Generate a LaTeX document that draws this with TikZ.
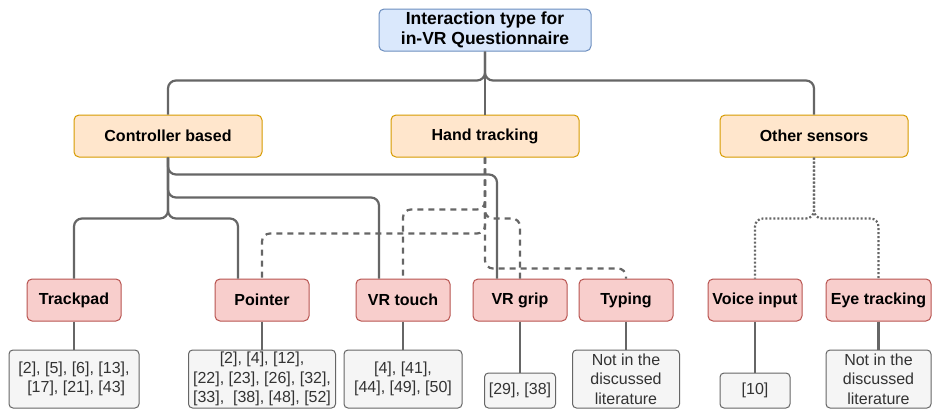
\documentclass[tikz,border=0pt]{standalone}
\usepackage{fontspec}
\setmainfont{Liberation Sans}
\usepackage{tikz}
\usetikzlibrary{positioning}
\usetikzlibrary{calc}
\definecolor{topfill}{HTML}{DAE8FC}
\definecolor{topline}{HTML}{6C8EBF}
\definecolor{catfill}{HTML}{FFE6CC}
\definecolor{catline}{HTML}{D79B00}
\definecolor{leaffill}{HTML}{F8CECC}
\definecolor{leafline}{HTML}{B85450}
\definecolor{reffill}{HTML}{F5F5F5}
\definecolor{refline}{HTML}{666666}
\definecolor{reftext}{HTML}{333333}
\definecolor{wire}{HTML}{666666}
\tikzset{
	%Define standard box
	box/.style={
		rectangle,
		rounded corners=5pt,
		line width=1pt,
		inner sep=0pt,
		align=center,
		minimum height=42pt,
		font=\fontsize{16}{20}\selectfont\bfseries},
	%Define style for the boxes of each level
	rootbox/.style={box, fill=topfill, draw=topline, minimum width=212pt,
		font=\fontsize{17.5}{20}\selectfont\bfseries},
	catbox/.style={box, fill=catfill, draw=catline, minimum width=188pt},
	leafbox/.style={box, fill=leaffill, draw=leafline, minimum width=94pt},
	refbox/.style={box, fill=reffill, draw=refline, text=reftext,
		rounded corners=4pt, minimum height=58pt,
		font=\fontsize{16}{19.5}\selectfont},
	% Define connector styles
	conn/.style={draw=wire, line width=2.2pt, rounded corners=8pt},
	hdash/.style={conn, dash pattern=on 6pt off 5pt},
	odot/.style={conn, dash pattern=on 2pt off 2pt}
}

\begin{document}
\begin{tikzpicture}[x=1pt, y=-1pt]
		\useasboundingbox[fill=white] (0,0) rectangle (935,410);
		% node root
		\node[rootbox] (root) at (485,30) {Interaction type for\\in-VR Questionnaire};
		% nodes level 2
		\node[catbox] (ctrl) at (168,136) {Controller based};
		\node[catbox] (hand) at (485,136) {Hand tracking};
		\node[catbox] (other) at (814,136) {Other sensors};
		% nodes level 3
		\node[leafbox] (trackpad) at (74,300) {Trackpad};
		\node[leafbox] (pointer) at (262,300) {Pointer};
		\node[leafbox] (touch) at (403,300) {VR touch};
		\node[leafbox] (grip) at (520,300) {VR grip};
		\node[leafbox] (typing) at (626,300) {Typing};
		\node[leafbox] (voice) at (755,300) {Voice input};
		\node[leafbox, minimum width=105pt] (eye) at (878.5,300) {Eye tracking};
		% nodes level 4
		\node[refbox, minimum width=130pt] (trackpadref) at (74,379) {[2], [5], [6], [13],\\{} [17], [21], [43]};
		\node[refbox, minimum width=147pt] (pointerref) at (262,379) {[2], [4], [12],\\{}[22], [23], [26], [32],\\{}[33], \ [38], [48], [52]};
		\node[refbox, minimum width=118pt] (touchref) at (403,379) {[4], [41],\\{}[44], [49], [50]};
		\node[refbox, minimum width=71pt, minimum height=35pt] (gripref) at (520,390.5) {[29], [38]};
		\node[refbox, minimum width=107pt] (typingref) at (626,379) {Not in the\\discussed\\literature};
		\node[refbox, minimum width=70pt, minimum height=35pt] (voiceref) at (755,390.5) {[10]};
		\node[refbox, minimum width=105pt] (eyeref) at (878.5,379) {Not in the\\discussed\\literature};
		% root to level 2
		\draw[conn]   (root.south) -- ++(0,29) -| (ctrl.north);
		\draw[conn]   (root.south) -- (hand.north);
		\draw[conn]   (root.south) -- ++(0,29) -| (other.north);
		% controller based
		\draw[conn]   (ctrl.south) -- ++(0,17) -| ([xshift=-23pt]grip.north);
		\draw[conn]   (ctrl.south) -- ++(0,40) -| ([xshift=-24pt]touch.north);
		\draw[conn]   (ctrl.south) -- ++(0,61) -| (trackpad.north);
		\draw[conn]   (ctrl.south) -- ++(0,61) -| ([xshift=-24pt]pointer.north);
		% hand tracking
		\draw[hdash]  (hand.south) -- ++(0,76) -| (pointer.north);
		\draw[hdash]  (hand.south) -- ++(0,52) -| (touch.north);
		\draw[hdash]  (hand.south) -- ++(0,61) -| (grip.north);
		\draw[hdash]  (hand.south) -- ++(0,111) -| (typing.north);
		% other sensors
		\draw[odot]   (other.south) -- ++(0,61) -| (voice.north);
		\draw[odot]   (other.south) -- ++(0,61) -| (eye.north);
		% level 3 to references
		\draw[conn]   (trackpad.south) -- (trackpadref.north);
		\draw[conn]   (pointer.south) -- (pointerref.north);
		\draw[conn]   (touch.south) -- (touchref.north);
		\draw[conn]   (grip.south) -- (gripref.north);
		\draw[conn]   (typing.south) -- (typingref.north);
		\draw[conn]   (voice.south) -- (voiceref.north);
		\draw[conn]   (eye.south) -- (eyeref.north);
	\end{tikzpicture}
\end{document}
